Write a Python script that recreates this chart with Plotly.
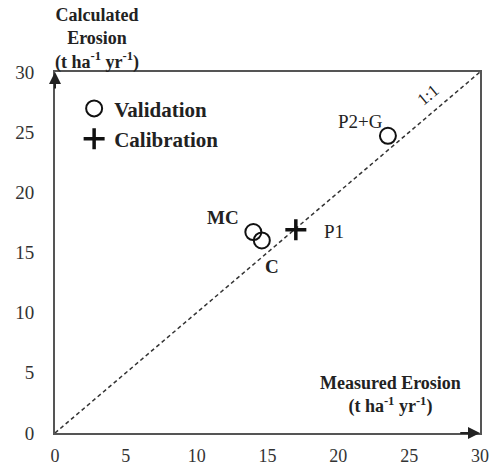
import plotly.graph_objects as go

# Data
val_x = [23.5, 14.0, 14.6]
val_y = [24.7, 16.7, 16.0]
cal_x = [17.0]
cal_y = [16.9]
ticks = [0, 5, 10, 15, 20, 25, 30]
line_11 = [0, 30]

FONT = "Times New Roman, Liberation Serif, serif"
AXC = "#555555"

fig = go.Figure()
fig.add_trace(go.Scatter(x=line_11, y=line_11, mode="lines",
                         line=dict(color="#333", width=1.5, dash="4px,3px"),
                         showlegend=False, hoverinfo="skip"))
fig.add_trace(go.Scatter(x=val_x, y=val_y, mode="markers", name="<b>Validation</b>",
                         marker=dict(symbol="circle-open", size=16, color="#111",
                                     line=dict(width=2, color="#111"))))
fig.add_trace(go.Scatter(x=cal_x, y=cal_y, mode="markers", name="<b>Calibration</b>",
                         marker=dict(symbol="cross-thin-open", size=15, color="#111",
                                     line=dict(width=3.5, color="#111"))))

fig.update_xaxes(range=[0, 30], tickvals=ticks, showgrid=False, zeroline=False,
                 showline=True, linecolor=AXC, linewidth=2, mirror=True, automargin=False,
                 tickfont=dict(family=FONT, size=18, color="#333"), ticks="",
                 ticklabelstandoff=5)
fig.update_yaxes(range=[0, 30], tickvals=ticks, showgrid=False, zeroline=False,
                 showline=True, linecolor=AXC, linewidth=2, mirror=True, automargin=False,
                 tickfont=dict(family=FONT, size=19, color="#333"), ticks="",
                 ticklabelstandoff=15)

# axis arrows
for (x, y, ax, ay) in [(0, 30, 0, 28.5), (30, 0, 28.5, 0)]:
    fig.add_annotation(x=x, y=y, ax=ax, ay=ay, xref="x", yref="y", axref="x", ayref="y",
                       showarrow=True, arrowhead=2, arrowsize=1.2, arrowwidth=2,
                       arrowcolor="#222", text="")
# axis titles
fig.add_annotation(x=0.099, y=1.0, xref="paper", yref="paper", xanchor="center", yanchor="bottom",
                   yshift=-3,
                   text="<b>Calculated<br>Erosion<br>(t ha<sup>-1</sup> yr<sup>-1</sup>)</b>",
                   showarrow=False, font=dict(family=FONT, size=18, color="#222"), align="center")
fig.add_annotation(x=0.79, y=0.105, xref="paper", yref="paper", xanchor="center", yanchor="middle",
                   text="<b>Measured Erosion<br>(t ha<sup>-1</sup> yr<sup>-1</sup>)</b>",
                   showarrow=False, font=dict(family=FONT, size=18, color="#222"), align="center")
# point labels
fig.add_annotation(x=val_x[0], y=val_y[0], text="P2+G", showarrow=False, xanchor="right",
                   xshift=-3, yshift=14, font=dict(family=FONT, size=19, color="#222"))
fig.add_annotation(x=val_x[1], y=val_y[1], text="<b>MC</b>", showarrow=False, xanchor="right",
                   xshift=-12, yshift=15, font=dict(family=FONT, size=19, color="#222"))
fig.add_annotation(x=val_x[2], y=val_y[2], text="<b>C</b>", showarrow=False, xanchor="center",
                   xshift=10, yshift=-26, font=dict(family=FONT, size=19, color="#222"))
fig.add_annotation(x=cal_x[0], y=cal_y[0], text="P1", showarrow=False, xanchor="left",
                   xshift=26, yshift=-2, font=dict(family=FONT, size=19, color="#222"))
fig.add_annotation(x=27.0, y=27.0, text="1:1", showarrow=False, textangle=-40,
                   xshift=-10, yshift=13, font=dict(family=FONT, size=17, color="#222"))

fig.update_layout(
    width=492, height=470,
    margin=dict(l=55, r=12, t=72, b=37),
    plot_bgcolor="white", paper_bgcolor="white",
    font=dict(family=FONT),
    legend=dict(x=0.045, y=0.955, xanchor="left", yanchor="top", bgcolor="rgba(0,0,0,0)",
                font=dict(family=FONT, size=21, color="#222"), tracegroupgap=0,
                itemwidth=30),
)

fig.write_html("out.html")
